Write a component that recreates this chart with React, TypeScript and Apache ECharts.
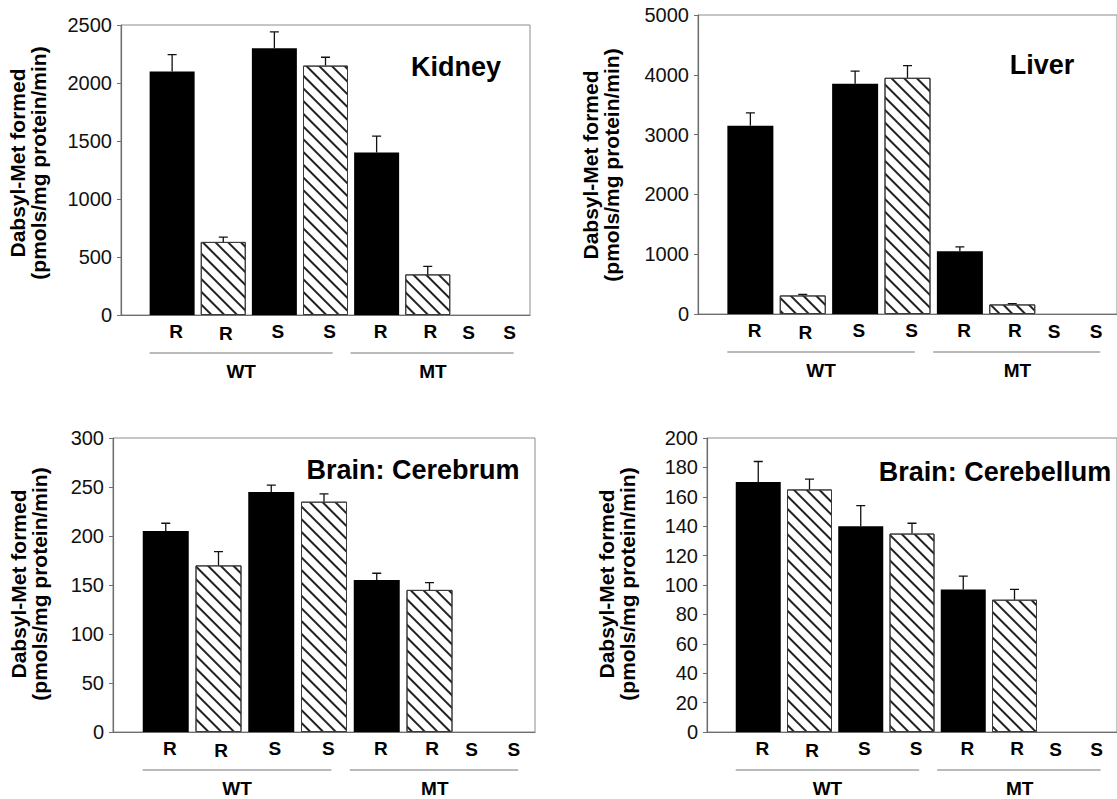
import React, { useEffect, useRef } from 'react';
import * as echarts from 'echarts';

// ---- data ----
const barLabels = ['R', 'R', 'S', 'S', 'R', 'R', 'S', 'S'];
const barPositions = [0, 1, 2, 3, 4, 5, 6, 7];
const labelPositions = [0.08, 1.05, 2.07, 3.08, 4.08, 5.05, 5.8, 6.6];
const groupNames = ['WT', 'MT'];
const groupStart = [-0.44, 3.49];
const groupEnd = [3.14, 6.68];
const groupCenter = [1.35, 5.1];

const kidneyValues = [2100, 630, 2300, 2150, 1400, 350, 0, 0];
const kidneyErrors = [145, 42, 140, 72, 142, 70, 0, 0];
const liverValues = [3150, 310, 3850, 3950, 1050, 160, 0, 0];
const liverErrors = [212, 18, 210, 205, 72, 12, 0, 0];
const cerebrumValues = [205, 170, 245, 235, 155, 145, 0, 0];
const cerebrumErrors = [8, 14, 7, 8, 7, 7.5, 0, 0];
const cerebellumValues = [170, 165, 140, 135, 97, 90, 0, 0];
const cerebellumErrors = [14, 7, 14, 7, 9, 7, 0, 0];

const panelTitles = ['Kidney', 'Liver', 'Brain: Cerebrum', 'Brain: Cerebellum'];
const yAxisTitle = 'Dabsyl-Met formed\n(pmols/mg protein/min)';

// ---- layout ----
const FONT = '"Liberation Sans", Arial, Helvetica, sans-serif';
const labelDrop = [0, 2, 0, 0, 0, 0, 1.5, 1.5];

const panels = [
  { values: kidneyValues, errors: kidneyErrors, max: 2500, interval: 500,
    grid: [121, 25, 409, 290], barWidth: 45, titleXY: [456, 67], yTitleXY: [27.5, 163] },
  { values: liverValues, errors: liverErrors, max: 5000, interval: 1000,
    grid: [698, 15, 427, 299], barWidth: 46, titleXY: [1042, 65], yTitleXY: [601, 165] },
  { values: cerebrumValues, errors: cerebrumErrors, max: 300, interval: 50,
    grid: [113, 438, 422, 294], barWidth: 46, titleXY: [413, 470], yTitleXY: [28.5, 584] },
  { values: cerebellumValues, errors: cerebellumErrors, max: 200, interval: 20,
    grid: [707, 438, 421, 294], barWidth: 45, titleXY: [995, 472], yTitleXY: [617, 584] },
];

const solidStyle = { color: '#000', borderWidth: 0 };
const hatchDecal = {
  symbol: 'rect',
  symbolSize: 1,
  dashArrayX: [1, 0],
  dashArrayY: [1.3, 6.2],
  rotation: Math.PI / 4,
  color: '#222',
};
const hatchedStyle = { color: '#fff', borderColor: '#3a3a3a', borderWidth: 1, decal: hatchDecal };
const emptyStyle = { color: 'rgba(0,0,0,0)', borderWidth: 0 };

function buildOption() {
  const grid: any[] = [];
  const xAxis: any[] = [];
  const yAxis: any[] = [];
  const series: any[] = [];
  const graphic: any[] = [];

  panels.forEach((p, i) => {
    grid.push({
      left: p.grid[0], top: p.grid[1], width: p.grid[2], height: p.grid[3],
      show: true, borderColor: '#8c8c8c', borderWidth: 1, backgroundColor: 'transparent',
    });
    xAxis.push({
      type: 'value', gridIndex: i, min: -1, max: 7,
      axisLine: { show: true, onZero: false, lineStyle: { color: '#6e6e6e', width: 1.2 } },
      axisTick: { show: false }, axisLabel: { show: false }, splitLine: { show: false },
      axisPointer: { show: false },
    });
    yAxis.push({
      type: 'value', gridIndex: i, min: 0, max: p.max, interval: p.interval,
      axisLine: { show: true, onZero: false, lineStyle: { color: '#6e6e6e', width: 1.2 } },
      axisTick: { show: true, length: 4, inside: false, lineStyle: { color: '#6e6e6e', width: 1 } },
      axisLabel: {
        show: true, fontSize: 20, fontFamily: FONT, color: '#111', margin: 9,
        formatter: (v: number) => String(v),
      },
      splitLine: { show: false },
      axisPointer: { show: false },
    });
    series.push({
      type: 'bar', xAxisIndex: i, yAxisIndex: i, barWidth: p.barWidth, silent: true,
      data: barPositions.map((x, k) => ({
        value: [x, p.values[k]],
        itemStyle: p.values[k] === 0 ? emptyStyle : (k % 2 === 0 ? solidStyle : hatchedStyle),
      })),
    });
    // error bars (upper whisker + cap)
    series.push({
      type: 'custom', xAxisIndex: i, yAxisIndex: i, clip: false, z: 5, silent: true,
      encode: { x: 0, y: 1 },
      data: barPositions.map((x, k) => [x, p.values[k], p.errors[k]]),
      renderItem: (params: any, api: any) => {
        const x = api.value(0), v = api.value(1), e = api.value(2);
        if (!e) return null;
        const a = api.coord([x, v]);
        const b = api.coord([x, v + e]);
        return {
          type: 'polyline',
          shape: { points: [[a[0], a[1]], [b[0], b[1]], [b[0] - 4.5, b[1]], [b[0] + 4.5, b[1]]] },
          style: { stroke: '#111', lineWidth: 1.3, fill: null },
        };
      },
    });
    // category labels under bars
    series.push({
      type: 'custom', xAxisIndex: i, yAxisIndex: i, clip: false, silent: true,
      encode: { x: 0, y: 1 },
      data: labelPositions.map((x, k) => [x, 0, k]),
      renderItem: (params: any, api: any) => {
        const k = api.value(2);
        const c = api.coord([api.value(0), 0]);
        return {
          type: 'text',
          x: c[0], y: c[1] + 16 + labelDrop[k],
          style: {
            text: barLabels[k], fill: '#000',
            font: `bold 19px ${FONT}`,
            textAlign: 'center', textVerticalAlign: 'middle',
          },
        };
      },
    });
    // group brackets WT / MT
    series.push({
      type: 'custom', xAxisIndex: i, yAxisIndex: i, clip: false, silent: true,
      encode: { x: 0, y: 1 },
      data: groupNames.map((g, k) => [groupCenter[k], 0, groupStart[k], groupEnd[k], k]),
      renderItem: (params: any, api: any) => {
        const k = api.value(4);
        const c = api.coord([api.value(0), 0]);
        const s = api.coord([api.value(2), 0]);
        const e = api.coord([api.value(3), 0]);
        return {
          type: 'group',
          children: [
            { type: 'line', shape: { x1: s[0], y1: c[1] + 38, x2: e[0], y2: c[1] + 38 },
              style: { stroke: '#777', lineWidth: 1.2 } },
            { type: 'text', x: c[0], y: c[1] + 56,
              style: { text: groupNames[k], fill: '#000', font: `bold 19px ${FONT}`,
                textAlign: 'center', textVerticalAlign: 'middle' } },
          ],
        };
      },
    });

    graphic.push({
      type: 'text', x: p.titleXY[0], y: p.titleXY[1], silent: true,
      style: { text: panelTitles[i], fill: '#000', font: `bold 27px ${FONT}`,
        textAlign: 'center', textVerticalAlign: 'middle' },
    });
    graphic.push({
      type: 'text', x: p.yTitleXY[0], y: p.yTitleXY[1], rotation: Math.PI / 2, silent: true,
      style: { text: yAxisTitle, fill: '#000', font: `bold 21px ${FONT}`, lineHeight: 21,
        textAlign: 'center', textVerticalAlign: 'middle' },
    });
  });

  return {
    animation: false,
    backgroundColor: '#fff',
    tooltip: { show: false },
    grid, xAxis, yAxis, series, graphic,
  };
}

export default function App() {
  const ref = useRef<HTMLDivElement>(null);
  useEffect(() => {
    document.body.style.margin = '0';
    document.documentElement.style.margin = '0';
    if (!ref.current) return;
    const chart = echarts.init(ref.current, undefined, { renderer: 'svg' });
    chart.setOption(buildOption() as any);
    return () => chart.dispose();
  }, []);
  return (
    <div
      ref={ref}
      style={{ position: 'fixed', left: 0, top: 0, width: 1117, height: 799, margin: 0, background: '#fff' }}
    />
  );
}
